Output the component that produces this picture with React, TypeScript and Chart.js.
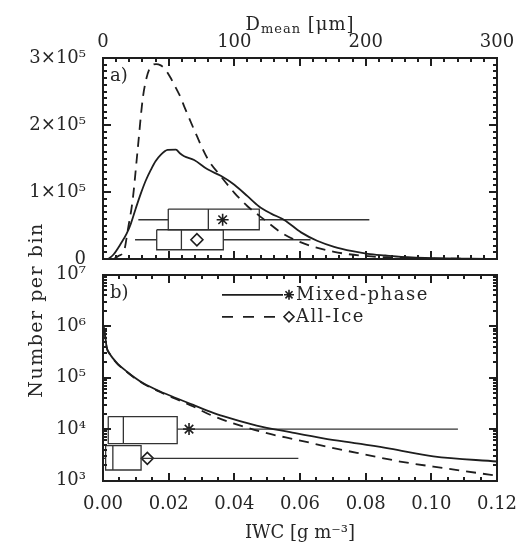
import React, { useEffect, useRef } from 'react';
import { Chart, registerables } from 'chart.js';
Chart.register(...registerables);

// ---------- Panel a) : Number per bin vs D_mean [µm] ----------
const dmeanMixed = [4, 8, 13.5, 18, 21.3, 25, 28.9, 32.5, 36.5, 40, 44.1, 49.2, 55.5, 58.5, 61.8, 69.4, 79.6, 90, 100, 110, 118.6, 128, 138, 150.8, 163, 176, 190, 201.6, 215, 227, 253, 280, 300];
const countMixed = [0, 7000, 23000, 38000, 53500, 76000, 98500, 117000, 133500, 146000, 156000, 163000, 163500, 158000, 153500, 148000, 134000, 124000, 111000, 94000, 79000, 68000, 58500, 40000, 27500, 18500, 12000, 8000, 5500, 3500, 1500, 800, 500];
const dmeanIce = [8, 12, 16.2, 19, 22.6, 26.4, 30.2, 32.5, 35.3, 40.4, 44, 47, 51, 54.3, 59.4, 61.8, 69.4, 79.6, 90, 100, 110, 122.8, 135.5, 150.8, 176, 201.6, 227, 253, 300];
const countIce = [0, 5000, 13500, 45000, 88500, 163500, 238500, 265000, 283500, 291000, 289000, 284000, 272000, 260000, 240000, 228000, 193000, 150000, 123000, 99000, 79000, 59000, 40000, 25000, 11000, 4500, 2000, 1000, 400];

// ---------- Panel b) : Number per bin vs IWC [g m^-3] ----------
const iwcMixed = [0.0002, 0.0006, 0.0011, 0.002, 0.0031, 0.0045, 0.0072, 0.0095, 0.0123, 0.0174, 0.0224, 0.0275, 0.0326, 0.0366, 0.0468, 0.057, 0.0671, 0.0773, 0.0874, 0.1006, 0.12];
const numMixed = [1000000, 708000, 398000, 295000, 234000, 186000, 132000, 102000, 77600, 53700, 39800, 29500, 21900, 17800, 11700, 8700, 6600, 5250, 4170, 2950, 2340];
const iwcIce = [0.0002, 0.0006, 0.0011, 0.002, 0.0031, 0.0045, 0.0072, 0.0095, 0.0123, 0.0174, 0.0224, 0.0275, 0.0326, 0.0397, 0.0499, 0.059, 0.0702, 0.0803, 0.0905, 0.1006, 0.1148, 0.119];
const numIce = [900000, 680000, 390000, 290000, 230000, 182000, 130000, 100000, 76000, 52500, 38000, 27500, 19000, 12900, 8300, 6200, 4270, 3160, 2340, 1860, 1380, 1260];

// ---------- Box plots: [whisker low, q1, median, q3, whisker high] and mean ----------
const boxDmeanMixed = [26.9, 49.7, 80.2, 119, 202.8];
const meanDmeanMixed = 91.1;
const boxDmeanIce = [24.4, 40.9, 59.7, 91.6, 158];
const meanDmeanIce = 71.5;
const boxIwcMixed = [0.0, 0.0016, 0.0062, 0.0226, 0.1081];
const meanIwcMixed = 0.0262;
const boxIwcIce = [0.0, 0.0008, 0.003, 0.0116, 0.0595];
const meanIwcIce = 0.0135;
// rows of the boxes on the count axis: [bottom, centre, top]
const rowDmeanMixed = [43900, 58800, 74700];
const rowDmeanIce = [14100, 29000, 43900];
const rowIwcMixed = [5200, 10000, 17500];
const rowIwcIce = [1600, 2700, 4750];

// ---------- Ticks & labels ----------
const dmeanTicks = [0, 100, 200, 300];
const countTicks = [0, 100000, 200000, 300000];
const countTickLabels = ['0', '1×10⁵', '2×10⁵', '3×10⁵'];
const iwcTicks = [0, 0.02, 0.04, 0.06, 0.08, 0.1, 0.12];
const iwcTickLabels = ['0.00', '0.02', '0.04', '0.06', '0.08', '0.10', '0.12'];
const logTicks = [1e3, 1e4, 1e5, 1e6, 1e7];
const logTickLabels = ['10³', '10⁴', '10⁵', '10⁶', '10⁷'];
const seriesNames = ['Mixed-phase', 'All-Ice'];
const yTitle = 'Number per bin';
const xTitleBottom = 'IWC [g m⁻³]';

const INK = '#1e1e1e';
const TXT = '#262626';
const FONT = "'DejaVu Serif', serif";

const pts = (xs: number[], ys: number[]) => xs.map((x, i) => ({ x, y: ys[i] }));

function boxDatasets(box: number[], mean: number, row: number[], marker: string) {
  const [lo, q1, med, q3, hi] = box;
  const [b, m, t] = row;
  const base: any = { showLine: true, pointRadius: 0, borderColor: '#333', borderWidth: 1.3, fill: false, tension: 0, borderJoinStyle: 'miter' };
  return [
    { ...base, data: [{ x: q1, y: t }, { x: q3, y: t }, { x: q3, y: b }, { x: q1, y: b }, { x: q1, y: t }] },
    { ...base, data: [{ x: med, y: t }, { x: med, y: b }] },
    { ...base, data: [{ x: lo, y: m }, { x: q1, y: m }] },
    { ...base, data: [{ x: q3, y: m }, { x: hi, y: m }] },
    { showLine: false, data: [{ x: mean, y: m }], pointStyle: marker, pointRadius: 6, borderColor: INK, backgroundColor: '#fff', pointBorderWidth: 1.6 },
  ];
}

function curve(xs: number[], ys: number[], dashed: boolean) {
  return {
    showLine: true, data: pts(xs, ys), pointRadius: 0, borderColor: INK, borderWidth: 1.8,
    borderDash: dashed ? [10, 7] : [], cubicInterpolationMode: 'monotone', fill: false,
  };
}

function rangeTicks(from: number, to: number, step: number) {
  const out: number[] = [];
  for (let v = from; v <= to + step * 1e-6; v += step) out.push(+v.toFixed(8));
  return out;
}

function makeDecor(cfg: { xTicks: number[][]; yTicks: number[][]; panel: string; legend: boolean; dTitle: boolean }) {
  return {
    id: 'decor',
    afterDraw(chart: any) {
      const { ctx, chartArea: a } = chart;
      const xs = chart.scales.x, ys = chart.scales.y;
      ctx.save();
      ctx.globalAlpha = 1;
      ctx.globalCompositeOperation = 'source-over';
      ctx.fillStyle = INK;
      const L = Math.round(a.left), T = Math.round(a.top), R = Math.round(a.right), B = Math.round(a.bottom);
      // frame
      ctx.fillRect(L - 1, T - 1, R - L + 2, 2);
      ctx.fillRect(L - 1, B - 1, R - L + 2, 2);
      ctx.fillRect(L - 1, T - 1, 2, B - T + 2);
      ctx.fillRect(R - 1, T - 1, 2, B - T + 2);
      // inward ticks on all four sides, placed through the chart scales
      for (let i = 0; i < cfg.xTicks.length; i++) {
        const p = Math.round(xs.getPixelForValue(Number(cfg.xTicks[i][0])));
        const len = Number(cfg.xTicks[i][1]);
        ctx.fillRect(p - 1, T, 2, len);
        ctx.fillRect(p - 1, B - len, 2, len);
      }
      for (let i = 0; i < cfg.yTicks.length; i++) {
        const p = Math.round(ys.getPixelForValue(Number(cfg.yTicks[i][0])));
        const len = Number(cfg.yTicks[i][1]);
        ctx.fillRect(L, p - 1, len, 2);
        ctx.fillRect(R - len, p - 1, len, 2);
      }

      ctx.fillStyle = TXT;
      ctx.textBaseline = 'alphabetic';
      ctx.textAlign = 'left';
      ctx.font = `18px ${FONT}`;
      ctx.fillText(cfg.panel, a.left + 7, a.top + 23);

      if (cfg.legend) {
        const rows = [a.top + 20, a.top + 42];
        ctx.strokeStyle = INK;
        rows.forEach((y, i) => {
          ctx.lineWidth = 1.8;
          ctx.setLineDash(i === 0 ? [] : [11, 10]);
          ctx.beginPath();
          ctx.moveTo(a.left + 119, y); ctx.lineTo(a.left + 180, y);
          ctx.stroke();
          ctx.setLineDash([]);
          const mx = a.left + 186;
          const r = 5;
          ctx.lineWidth = 1.6;
          ctx.beginPath();
          if (i === 0) {
            for (let k = 0; k < 4; k++) {
              const ang = (k * Math.PI) / 4;
              ctx.moveTo(mx - r * Math.cos(ang), y - r * Math.sin(ang));
              ctx.lineTo(mx + r * Math.cos(ang), y + r * Math.sin(ang));
            }
          } else {
            ctx.moveTo(mx, y - r); ctx.lineTo(mx + r, y); ctx.lineTo(mx, y + r); ctx.lineTo(mx - r, y); ctx.closePath();
          }
          ctx.stroke();
          ctx.fillStyle = TXT;
          ctx.font = `18px ${FONT}`;
          ctx.textBaseline = 'middle';
          (ctx as any).letterSpacing = '1.5px';
          ctx.fillText(seriesNames[i], a.left + 193, y + 1);
          (ctx as any).letterSpacing = '0px';
        });
      }

      if (cfg.dTitle) {
        const cx = (a.left + a.right) / 2;
        ctx.fillStyle = TXT;
        ctx.textBaseline = 'alphabetic';
        ctx.textAlign = 'left';
        const big = `18px ${FONT}`, small = `13px ${FONT}`;
        (ctx as any).letterSpacing = '1px';
        ctx.font = big; const w1 = ctx.measureText('D').width;
        ctx.font = small; const w2 = ctx.measureText('mean').width;
        ctx.font = big; const w3 = ctx.measureText(' [μm]').width;
        let x = cx - (w1 + w2 + w3) / 2;
        ctx.font = big; ctx.fillText('D', x, 30); x += w1;
        ctx.font = small; ctx.fillText('mean', x, 33); x += w2;
        ctx.font = big; ctx.fillText(' [μm]', x, 30);
        (ctx as any).letterSpacing = '0px';
      }
      ctx.restore();
    },
  };
}

const tickFont = { family: FONT, size: 18 };

function ChartA() {
  const ref = useRef<HTMLCanvasElement>(null);
  useEffect(() => {
    const xTicks = [
      ...rangeTicks(0, 300, 50).map((v) => [v, 8]),
      ...rangeTicks(0, 300, 10).filter((v) => v % 50 !== 0).map((v) => [v, 4]),
    ];
    const yTicks = [
      ...rangeTicks(0, 300000, 100000).map((v) => [v, 8]),
      ...rangeTicks(0, 300000, 10000).filter((v) => v % 100000 !== 0).map((v) => [v, 4]),
    ];
    const chart = new Chart(ref.current!, {
      type: 'scatter',
      data: {
        datasets: [
          curve(dmeanMixed, countMixed, false),
          curve(dmeanIce, countIce, true),
          ...boxDatasets(boxDmeanMixed, meanDmeanMixed, rowDmeanMixed, 'star'),
          ...boxDatasets(boxDmeanIce, meanDmeanIce, rowDmeanIce, 'rectRot'),
        ] as any,
      },
      options: {
        responsive: false,
        animation: false,
        events: [],
        layout: { padding: { left: 0, right: 28, top: 0, bottom: 6.5 } },
        plugins: { legend: { display: false }, tooltip: { enabled: false } },
        scales: {
          x: {
            type: 'linear', position: 'top', min: 0, max: 300,
            afterBuildTicks: (s: any) => { s.ticks = dmeanTicks.map((value) => ({ value })); },
            afterFit: (s: any) => { s.height = 58; },
            grid: { display: false }, border: { display: false },
            ticks: { font: tickFont, color: TXT, padding: -3, maxRotation: 0, autoSkip: false, callback: (v: any) => String(v) },
          },
          y: {
            type: 'linear', min: 0, max: 300000,
            afterBuildTicks: (s: any) => { s.ticks = countTicks.map((value) => ({ value })); },
            afterFit: (s: any) => { s.width = 103; },
            grid: { display: false }, border: { display: false },
            ticks: { font: tickFont, color: TXT, padding: 9, autoSkip: false, callback: (v: any) => countTickLabels[countTicks.indexOf(v)] },
          },
        },
      },
      plugins: [makeDecor({ xTicks, yTicks, panel: 'a)', legend: false, dTitle: true })],
    } as any);
    return () => chart.destroy();
  }, []);
  return <canvas ref={ref} width={525} height={279} style={{ position: 'absolute', left: 0, top: 0, width: 525, height: 279 }} />;
}

function ChartB() {
  const ref = useRef<HTMLCanvasElement>(null);
  useEffect(() => {
    const xTicks = [
      ...rangeTicks(0, 0.12, 0.02).map((v) => [v, 8]),
      ...rangeTicks(0, 0.12, 0.005).filter((v) => Math.abs(v / 0.02 - Math.round(v / 0.02)) > 1e-6).map((v) => [v, 4]),
    ];
    const yTicks: number[][] = [];
    for (let e = 3; e <= 7; e++) {
      yTicks.push([Math.pow(10, e), 8]);
      if (e < 7) for (let k = 2; k <= 9; k++) yTicks.push([k * Math.pow(10, e), 4]);
    }
    const chart = new Chart(ref.current!, {
      type: 'scatter',
      data: {
        datasets: [
          curve(iwcMixed, numMixed, false),
          curve(iwcIce, numIce, true),
          ...boxDatasets(boxIwcMixed, meanIwcMixed, rowIwcMixed, 'star'),
          ...boxDatasets(boxIwcIce, meanIwcIce, rowIwcIce, 'rectRot'),
        ] as any,
      },
      options: {
        responsive: false,
        animation: false,
        events: [],
        layout: { padding: { left: 0, right: 28, top: 9, bottom: 0 } },
        plugins: { legend: { display: false }, tooltip: { enabled: false } },
        scales: {
          x: {
            type: 'linear', position: 'bottom', min: 0, max: 0.12,
            afterBuildTicks: (s: any) => { s.ticks = iwcTicks.map((value) => ({ value })); },
            afterFit: (s: any) => { s.height = 65.5; },
            grid: { display: false }, border: { display: false },
            ticks: { font: tickFont, color: TXT, padding: 5, maxRotation: 0, autoSkip: false, callback: (v: any) => iwcTickLabels[iwcTicks.findIndex((t) => Math.abs(t - v) < 1e-9)] },
            title: { display: true, text: xTitleBottom, font: { family: FONT, size: 18 }, color: TXT, padding: { top: 0, bottom: 2 } },
          },
          y: {
            type: 'logarithmic', min: 1000, max: 1e7,
            afterBuildTicks: (s: any) => { s.ticks = logTicks.map((value) => ({ value })); },
            afterFit: (s: any) => { s.width = 103; },
            grid: { display: false }, border: { display: false },
            ticks: { font: tickFont, color: TXT, padding: 9, autoSkip: false, callback: (v: any) => logTickLabels[logTicks.findIndex((t) => Math.abs(t - v) / t < 1e-6)] },
          },
        },
      },
      plugins: [makeDecor({ xTicks, yTicks, panel: 'b)', legend: true, dTitle: false })],
    } as any);
    return () => chart.destroy();
  }, []);
  return <canvas ref={ref} width={525} height={291} style={{ position: 'absolute', left: 0, top: 255, width: 525, height: 291 }} />;
}

export default function App() {
  return (
    <div style={{ position: 'absolute', left: 0, top: 0, width: 525, height: 546, background: '#fff', overflow: 'hidden' }}>
      <ChartA />
      <ChartB />
      <div
        style={{
          position: 'absolute', left: 35 - 110, top: 310 - 12, width: 220, height: 24, lineHeight: '24px',
          textAlign: 'center', transform: 'rotate(-90deg)', fontFamily: FONT, fontSize: 19, letterSpacing: '1.5px', color: TXT,
        }}
      >
        {yTitle}
      </div>
    </div>
  );
}
